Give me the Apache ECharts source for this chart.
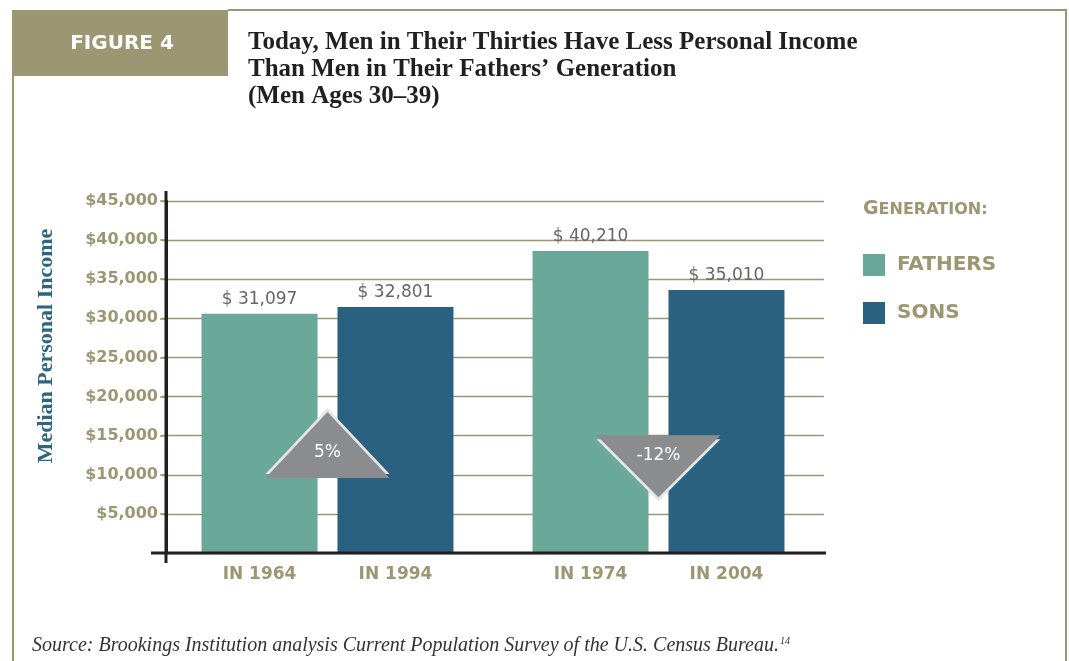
<!DOCTYPE html>
<html><head><meta charset="utf-8">
<script src="https://cdn.jsdelivr.net/npm/echarts@6/dist/echarts.min.js"></script>
<style>html,body{margin:0;padding:0;background:#fff}#c{width:1069px;height:661px}</style>
</head><body><div id="c"></div>
<script>
// ---- data ----
const groups = ['1964 vs 1994', '1974 vs 2004'];
const fatherYears = ['IN 1964', 'IN 1974'];
const sonYears = ['IN 1994', 'IN 2004'];
const fathersBar = [30600, 38600];   // bar heights as drawn
const sonsBar = [31450, 33630];
const fathersLabel = [31097, 40210]; // printed labels
const sonsLabel = [32801, 35010];
const changeLabels = ['5%', '-12%'];
const changeUp = [true, false];
const changeLevel = [13800, 11100];
const seriesNames = ['FATHERS', 'SONS'];
const yMin = 0, yMax = 45000, yStep = 5000;

// ---- style ----
const KHAKI = '#9c9672';
const FATHER_C = '#6aa99a';
const SON_C = '#2a6180';
const sans = 'DejaVu Sans';
const serif = 'Liberation Serif';

function money(v) { return v.toLocaleString('en-US'); }

const markData = [];
groups.forEach((g, i) => {
  const up = changeUp[i];
  const size = up ? [124, 66] : [124, 62];
  markData.push({
    coord: [g, changeLevel[i]], symbol: 'triangle', symbolSize: size,
    symbolRotate: up ? 0 : 180, symbolOffset: [0, up ? -4 : 4],
    itemStyle: { color: '#e4e5e6' }, label: { show: false }
  });
  markData.push({
    coord: [g, changeLevel[i]], symbol: 'triangle', symbolSize: size,
    symbolRotate: up ? 0 : 180,
    itemStyle: { color: '#8a8c8e' },
    label: { show: true, formatter: changeLabels[i], color: '#fff', fontFamily: sans,
      fontSize: 17, offset: [0, up ? 8 : -11] }
  });
});

const catLabel = { show: true, position: 'bottom', distance: 13, color: KHAKI,
  fontFamily: sans, fontWeight: 'bold', fontSize: 17 };
const valLabel = { show: true, position: 'top', distance: 6, color: '#666',
  fontFamily: sans, fontSize: 17 };

const chart = echarts.init(document.getElementById('c'), null, { renderer: 'canvas' });
chart.setOption({
  backgroundColor: '#fff',
  animation: false,
  title: [
    { text: 'Today, Men in Their Thirties Have Less Personal Income\nThan Men in Their Fathers’ Generation\n(Men Ages 30–39)',
      left: 248, top: 29, padding: 0,
      textStyle: { fontFamily: serif, fontWeight: 'bold', fontSize: 25, lineHeight: 27, color: '#231f20' } },
    { text: '{a|Source: Brookings Institution analysis Current Population Survey of the U.S. Census Bureau.}{s|14}',
      left: 32, top: 636, padding: 0,
      textStyle: { fontWeight: 'normal', rich: {
        a: { fontFamily: serif, fontStyle: 'italic', fontWeight: 'normal', fontSize: 20, color: '#333' },
        s: { fontFamily: serif, fontStyle: 'italic', fontWeight: 'normal', fontSize: 10, color: '#333', verticalAlign: 'top', padding: [0, 0, 9, 1] }
      } } },
    { text: '{b|G}{c|ENERATION:}', left: 863, top: 200, padding: 0,
      textStyle: { rich: {
        b: { fontFamily: sans, fontWeight: 'bold', fontSize: 19, color: KHAKI },
        c: { fontFamily: sans, fontWeight: 'bold', fontSize: 16, color: KHAKI }
      } } }
  ],
  legend: {
    data: seriesNames, orient: 'vertical', left: 863, top: 254, padding: 0, itemWidth: 22, itemHeight: 22,
    itemGap: 26, icon: 'rect', selectedMode: false,
    textStyle: { color: KHAKI, fontFamily: sans, fontWeight: 'bold', fontSize: 20, padding: [0, 0, 0, 7] }
  },
  graphic: [
    { type: 'rect', shape: { x: 12, y: 10, width: 216, height: 66 }, style: { fill: KHAKI }, silent: true },
    { type: 'text', x: 122, y: 44, style: { text: 'FIGURE 4', fill: '#fff', font: 'bold 20px "DejaVu Sans"',
      textAlign: 'center', textVerticalAlign: 'middle' }, silent: true },
    { type: 'line', shape: { x1: 228, y1: 10, x2: 1067, y2: 10 }, style: { stroke: KHAKI, lineWidth: 2 }, silent: true },
    { type: 'line', shape: { x1: 13, y1: 76, x2: 13, y2: 661 }, style: { stroke: KHAKI, lineWidth: 2 }, silent: true },
    { type: 'line', shape: { x1: 1066, y1: 10, x2: 1066, y2: 661 }, style: { stroke: KHAKI, lineWidth: 2 }, silent: true },
    { type: 'line', shape: { x1: 166, y1: 191, x2: 166, y2: 563 }, style: { stroke: '#231f20', lineWidth: 3 }, silent: true, z: 10 },
    { type: 'line', shape: { x1: 151, y1: 553, x2: 826, y2: 553 }, style: { stroke: '#231f20', lineWidth: 3 }, silent: true, z: 10 },
    { type: 'text', x: 46, y: 346, rotation: Math.PI / 2,
      style: { text: 'Median Personal Income', fill: '#2e6582', font: 'bold 22px "Liberation Serif"',
        textAlign: 'center', textVerticalAlign: 'middle' }, silent: true }
  ],
  grid: { left: 162, top: 201, width: 662, height: 352 },
  xAxis: {
    type: 'category', data: groups,
    axisLine: { show: false }, axisTick: { show: false }, axisLabel: { show: false }
  },
  yAxis: {
    type: 'value', min: yMin, max: yMax, interval: yStep, offset: -4,
    axisLine: { show: true, lineStyle: { color: '#231f20', width: 3 } },
    axisTick: { show: true, length: 6, lineStyle: { color: KHAKI, width: 1.5 } },
    axisLabel: { color: KHAKI, fontFamily: sans, fontWeight: 'bold', fontSize: 16, margin: 8,
      formatter: v => v === 0 ? '' : '$' + money(v) },
    splitLine: { show: true, lineStyle: { color: KHAKI, width: 1.3 } }
  },
  series: [
    { type: 'bar', stack: 'f', silent: true, barWidth: 116, barGap: '17.2%',
      data: fathersBar.map(() => 0), itemStyle: { color: FATHER_C },
      label: Object.assign({}, catLabel, { formatter: p => fatherYears[p.dataIndex] }) },
    { name: seriesNames[0], type: 'bar', stack: 'f', barWidth: 116, barGap: '17.2%',
      data: fathersBar, itemStyle: { color: FATHER_C },
      label: Object.assign({}, valLabel, { formatter: p => '$ ' + money(fathersLabel[p.dataIndex]) }) },
    { type: 'bar', stack: 's', silent: true, barWidth: 116, barGap: '17.2%',
      data: sonsBar.map(() => 0), itemStyle: { color: SON_C },
      label: Object.assign({}, catLabel, { formatter: p => sonYears[p.dataIndex] }) },
    { name: seriesNames[1], type: 'bar', stack: 's', barWidth: 116, barGap: '17.2%',
      data: sonsBar, itemStyle: { color: SON_C },
      label: Object.assign({}, valLabel, { formatter: p => '$ ' + money(sonsLabel[p.dataIndex]) }) },
    { type: 'line', data: [], silent: true, symbol: 'none',
      markPoint: { silent: true, z: 6, data: markData } }
  ]
});
</script></body></html>
